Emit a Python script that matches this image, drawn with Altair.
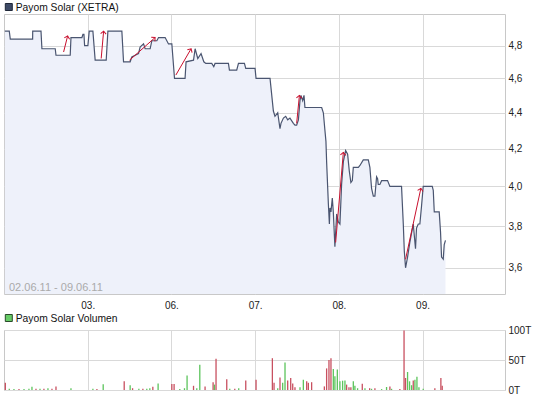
import math
import altair as alt
import pandas as pd

# ---------------- data ----------------
# price line: x = trading-day position (0 = open of 02.06.), y = price (EUR)
price_day = [
    0.01, 0.063, 0.075, 0.342, 0.343, 0.442, 0.453, 0.612, 0.621, 0.791,
    0.80, 0.931, 0.943, 0.955, 0.963, 1.002, 1.018, 1.062, 1.089, 1.221,
    1.241, 1.408, 1.428, 1.507, 1.527, 1.567, 1.607, 1.626, 1.667, 1.686,
    1.746, 1.766, 1.826, 1.846, 1.925, 1.965, 2.005, 2.037, 2.163, 2.175,
    2.264, 2.283, 2.315, 2.354, 2.387, 2.411, 2.482, 2.506, 2.521, 2.681,
    2.693, 2.780, 2.801, 2.872, 2.888, 2.999, 3.011, 3.178, 3.218, 3.237,
    3.270, 3.297, 3.309, 3.338, 3.365, 3.389, 3.416, 3.457, 3.476, 3.496,
    3.517, 3.536, 3.548, 3.568, 3.584, 3.595, 3.795, 3.815, 3.834, 3.846,
    3.854, 3.875, 3.887, 3.894, 3.906, 3.922, 3.934, 3.953, 3.974, 3.994,
    4.013, 4.033, 4.054, 4.081, 4.105, 4.125, 4.144, 4.161, 4.173, 4.233,
    4.252, 4.292, 4.352, 4.371, 4.391, 4.412, 4.431, 4.451, 4.463, 4.471,
    4.490, 4.511, 4.550, 4.582, 4.610, 4.749, 4.770, 4.782, 4.797, 4.821,
    4.848, 4.889, 4.916, 4.928, 4.949, 4.968, 4.988, 5.008, 5.116, 5.128,
    5.140, 5.199, 5.215, 5.227, 5.247, 5.259, 5.274,
]
price_val = [
    4.89, 4.89, 4.84, 4.84, 4.89, 4.89, 4.78, 4.78, 4.74, 4.74,
    4.85, 4.85, 4.87, 4.87, 4.80, 4.80, 4.89, 4.89, 4.71, 4.71,
    4.89, 4.89, 4.70, 4.70, 4.73, 4.74, 4.75, 4.79, 4.81, 4.78,
    4.78, 4.83, 4.83, 4.85, 4.85, 4.81, 4.81, 4.60, 4.60, 4.70,
    4.71, 4.78, 4.72, 4.75, 4.70, 4.69, 4.69, 4.67, 4.69, 4.69,
    4.65, 4.65, 4.69, 4.69, 4.66, 4.66, 4.60, 4.60, 4.41, 4.38,
    4.40, 4.31, 4.34, 4.37, 4.38, 4.36, 4.37, 4.34, 4.33, 4.33,
    4.36, 4.47, 4.50, 4.47, 4.50, 4.43, 4.43, 4.40, 4.30, 4.24,
    4.13, 3.91, 3.81, 3.89, 3.87, 3.94, 3.87, 3.70, 3.86, 3.82,
    3.81, 4.01, 4.13, 4.19, 4.17, 4.08, 4.02, 4.03, 4.10, 4.10,
    4.11, 4.14, 4.14, 4.10, 3.99, 3.95, 3.95, 4.05, 4.04, 4.01,
    4.01, 4.03, 4.03, 4.03, 4.00, 4.00, 3.81, 3.68, 3.60, 3.65,
    3.72, 3.81, 3.69, 3.79, 3.81, 3.81, 3.90, 4.00, 4.00, 3.98,
    3.87, 3.87, 3.77, 3.65, 3.64, 3.71, 3.73,
]

# red trend arrows: start (day, price) -> end (day, price)
arrow_x1 = [0.712, 1.161, 1.500, 2.053, 3.496, 3.962, 4.797]
arrow_y1 = [4.76, 4.72, 4.71, 4.62, 4.34, 3.72, 3.64]
arrow_x2 = [0.760, 1.190, 1.805, 2.235, 3.529, 4.054, 4.980]
arrow_y2 = [4.86, 4.89, 4.85, 4.78, 4.50, 4.18, 3.99]

# volume bars (thousands of shares)
vol_day = [
    0.016, 0.063, 0.119, 0.179, 0.239, 0.298, 0.334, 0.382, 0.430, 0.477,
    0.525, 0.573, 0.621, 0.800, 1.062, 1.110, 1.185, 1.436, 1.507, 1.536,
    1.611, 1.659, 1.706, 1.742, 1.778, 1.841, 2.005, 2.032, 2.100, 2.156,
    2.187, 2.264, 2.303, 2.339, 2.402, 2.498, 2.514, 2.533, 2.661, 2.697,
    2.757, 2.804, 2.888, 3.011, 3.206, 3.226, 3.270, 3.297, 3.329, 3.357,
    3.389, 3.425, 3.449, 3.476, 3.536, 3.576, 3.616, 3.636, 3.675, 3.827,
    3.854, 3.882, 3.906, 3.934, 3.953, 3.982, 4.013, 4.045, 4.073, 4.093,
    4.121, 4.144, 4.173, 4.192, 4.224, 4.280, 4.312, 4.368, 4.391, 4.431,
    4.511, 4.570, 4.610, 4.630, 4.729, 4.779, 4.797, 4.821, 4.845, 4.869,
    4.889, 4.909, 4.933, 4.957, 5.008, 5.147, 5.219, 5.235,
]
vol_val = [
    12, 2, 1.5, 1.5, 1.5, 2, 5.5, 2, 2, 2,
    3, 2, 6, 3, 2, 1.5, 9.5, 14.5, 8, 3,
    2, 2, 2, 3, 5.5, 11, 10, 10, 1.5, 3,
    24, 7, 3, 42, 6, 13, 9, 52, 18, 2,
    2, 3, 16, 17, 53, 12, 3, 21, 12, 46,
    16, 20, 11, 4.5, 4.5, 17, 14.5, 12, 13, 6,
    36, 50, 53, 35, 23, 34, 14.5, 15.5, 16, 9,
    4.5, 4.5, 14.5, 7, 3, 10.5, 3, 3, 2, 3,
    1.5, 5, 6, 2, 1.5, 99, 20, 30, 14.5, 8,
    16, 17, 22, 4.5, 2, 3, 20, 7,
]
vol_dir = [
    "down", "up", "up", "down", "up", "up", "up", "down", "up", "down",
    "up", "down", "down", "up", "up", "down", "up", "down", "up", "down",
    "up", "down", "up", "up", "down", "up", "down", "down", "up", "up",
    "up", "down", "up", "up", "down", "down", "up", "down", "down", "up",
    "down", "up", "down", "down", "down", "down", "up", "down", "up", "up",
    "down", "down", "down", "down", "up", "up", "down", "down", "down", "down",
    "down", "down", "down", "up", "up", "up", "up", "up", "up", "down",
    "down", "down", "up", "up", "up", "down", "up", "down", "up", "down",
    "up", "up", "down", "up", "down", "down", "down", "up", "up", "up",
    "down", "up", "up", "up", "up", "down", "down", "down",
]

tick_days = [1, 2, 3, 4, 5]
tick_labels = ["03.", "06.", "07.", "08.", "09."]
price_ticks = [3.6, 3.8, 4.0, 4.2, 4.4, 4.6, 4.8]
vol_ticks = [0, 50, 100]

# ---------------- layout constants ----------------
W = 501
H_PRICE = 280
H_VOL = 60
X_DOMAIN = [0, 5.985]
Y_DOMAIN = [3.48, 5.0]
FONT = "Liberation Sans"
GRID = "#d9d9d9"
LINE = "#4a5570"
FILL = "#eef1fa"
RED = "#c8102e"

price_df = pd.DataFrame({"day": price_day, "price": price_val})

# arrow-head angle (screen space, clockwise from up) derived from the scales
px_day = W / (X_DOMAIN[1] - X_DOMAIN[0])
px_ln = H_PRICE / math.log(Y_DOMAIN[1] / Y_DOMAIN[0])
angles = []
for x1, y1, x2, y2 in zip(arrow_x1, arrow_y1, arrow_x2, arrow_y2):
    dx = (x2 - x1) * px_day
    up = math.log(y2 / y1) * px_ln
    angles.append(math.degrees(math.atan2(dx, up)) % 360)
arrow_df = pd.DataFrame({"x1": arrow_x1, "y1": arrow_y1, "x2": arrow_x2,
                         "y2": arrow_y2, "ang": angles})
vol_df = pd.DataFrame({"day": vol_day, "vol": vol_val, "dir": vol_dir})
one = pd.DataFrame({"k": [0]})

label_expr = " : ".join(
    f"datum.value == {d} ? '{l}'" for d, l in zip(tick_days, tick_labels)
) + " : ''"

x_scale = alt.Scale(domain=X_DOMAIN, nice=False, zero=False)
y_scale = alt.Scale(type="log", domain=Y_DOMAIN, nice=False)

x_axis = alt.Axis(values=tick_days, labelExpr=label_expr, grid=True,
                  ticks=False, domain=False, labelPadding=6, title=None)
y_axis = alt.Axis(orient="right", values=price_ticks, grid=True, ticks=False,
                  domain=False, labelPadding=3, title=None,
                  labelExpr="replace(format(datum.value, '.1f'), '.', ',')")

X = alt.X("day:Q", scale=x_scale, axis=x_axis)
Y = alt.Y("price:Q", scale=y_scale, axis=y_axis)

area = alt.Chart(price_df).mark_area(color=FILL, opacity=1, clip=True).encode(
    x=X, y=Y, y2=alt.datum(Y_DOMAIN[0]))
line = alt.Chart(price_df).mark_line(color=LINE, strokeWidth=1.2, clip=True).encode(x=X, y=Y)

arrows = alt.Chart(arrow_df).mark_rule(color=RED, strokeWidth=1).encode(
    x=alt.X("x1:Q", scale=x_scale, axis=x_axis),
    x2="x2:Q",
    y=alt.Y("y1:Q", scale=y_scale, axis=y_axis),
    y2="y2:Q",
)
heads = alt.Chart(arrow_df).mark_point(
    shape="M-1,1L0,0L1,1", filled=False, color=RED, strokeWidth=1, size=30, opacity=1
).encode(
    x=alt.X("x2:Q", scale=x_scale, axis=x_axis),
    y=alt.Y("y2:Q", scale=y_scale, axis=y_axis),
    angle=alt.Angle("ang:Q", scale=None),
)

date_txt = alt.Chart(one).mark_text(
    align="left", baseline="middle", fontSize=11, color="#aaaaaa", font=FONT
).encode(x=alt.value(5), y=alt.value(274), text=alt.value("02.06.11 - 09.06.11"))

sq1 = alt.Chart(one).mark_square(size=49, color="#3d4a66", stroke="#1f2738",
                                  strokeWidth=1, opacity=1).encode(
    x=alt.value(4.8), y=alt.value(-7))
t1 = alt.Chart(one).mark_text(align="left", baseline="alphabetic", fontSize=10.3,
                              color="#111111", font=FONT).encode(
    x=alt.value(11.7), y=alt.value(-3.5), text=alt.value("Payom Solar (XETRA)"))

top = alt.layer(area, line, arrows, heads, date_txt, sq1, t1).properties(
    width=W, height=H_PRICE)

vx_axis = alt.Axis(values=tick_days, grid=True, labels=False, ticks=False,
                   domain=False, title=None)
vy_axis = alt.Axis(orient="right", values=vol_ticks, grid=True, ticks=False,
                   domain=False, labelPadding=3, title=None,
                   labelExpr="datum.value + 'T'")
bars = alt.Chart(vol_df).mark_rule(strokeWidth=1.3).encode(
    x=alt.X("day:Q", scale=x_scale, axis=vx_axis),
    y=alt.Y("vol:Q", scale=alt.Scale(domain=[0, 100], nice=False), axis=vy_axis),
    y2=alt.datum(0),
    color=alt.Color("dir:N", scale=alt.Scale(domain=["up", "down"],
                                             range=["#5cc45c", "#c85060"]),
                    legend=None),
)
sq2 = alt.Chart(one).mark_square(size=49, color="#66cc66", stroke="#2a4a2a",
                                  strokeWidth=1, opacity=1).encode(
    x=alt.value(4.8), y=alt.value(-12))
t2 = alt.Chart(one).mark_text(align="left", baseline="alphabetic", fontSize=10.3,
                              color="#111111", font=FONT).encode(
    x=alt.value(11.7), y=alt.value(-8), text=alt.value("Payom Solar Volumen"))

bottom = alt.layer(bars, sq2, t2).properties(width=W, height=H_VOL)

chart = alt.vconcat(top, bottom, spacing=36, bounds="flush").properties(
    padding={"left": 2, "top": 1, "right": 0, "bottom": 0},
    background="white",
).configure_view(stroke="#c8c8c8", strokeWidth=1).configure_axis(
    labelFont=FONT, labelFontSize=10, labelColor="#222222",
    gridColor=GRID, gridWidth=1,
)

chart.save("out.html", embed_options={"renderer": "svg", "actions": False})
